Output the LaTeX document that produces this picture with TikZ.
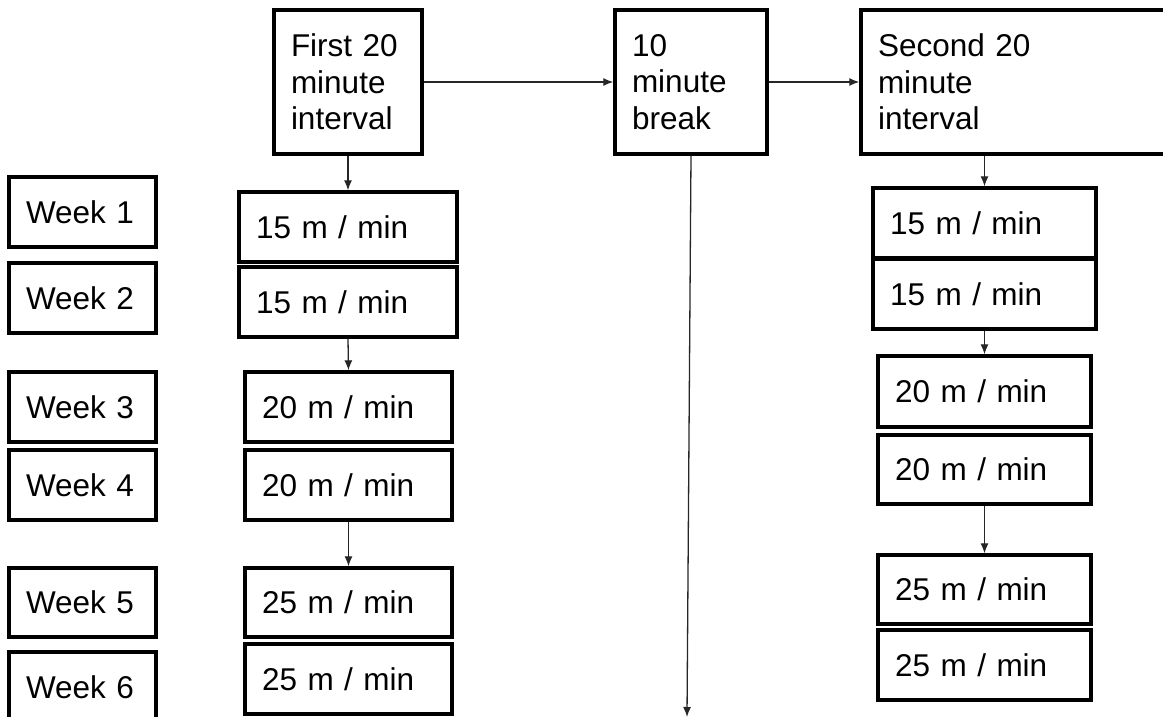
\documentclass[tikz,border=0pt]{standalone}
\usepackage{fontspec}
\setmainfont{Liberation Sans}
\usetikzlibrary{arrows.meta}
\tikzset{
  box/.style={draw=black, line width=3.4pt, fill=white, inner xsep=17pt, inner ysep=0pt,
    align=left, font=\fontsize{31.5}{36.5}\selectfont},
  conn/.style={line width=1.3pt, draw=black!85, -{Latex[length=10pt,width=8pt]}}
}
\newcommand\mybox[6]{%
  \pgfmathsetmacro\bh{#5-#3}%
  \pgfmathsetmacro\tw{#4-#2-34}%
  \node[box, text width=\tw pt, minimum height=\bh pt] (#1) at ({(#2+#4)/2},{(#3+#5)/2}) {#6};}
\begin{document}
\begin{tikzpicture}[x=1pt,y=-1pt]
\useasboundingbox (0,0) rectangle (1163,717);
% top row
\mybox{first}{274}{10}{422}{154}{First 20\\minute\\interval}
\mybox{brk}{615}{10}{767}{154}{10\\minute\\break}
\mybox{second}{861}{10}{1185}{154}{Second 20\\minute\\interval}
% week labels
\mybox{w1}{9}{177}{156}{247}{Week 1}
\mybox{w2}{9}{263}{156}{333}{Week 2}
\mybox{w3}{9}{372}{156}{442}{Week 3}
\mybox{w4}{9}{450}{156}{520}{Week 4}
\mybox{w5}{9}{568}{156}{637}{Week 5}
\mybox{w6}{9}{652}{156}{722}{Week 6}
% first interval column
\mybox{la}{239}{192}{457}{262}{15 m / min}
\mybox{lb}{239}{267}{457}{337}{15 m / min}
\mybox{lc}{245}{372}{452}{442}{20 m / min}
\mybox{ld}{245}{450}{452}{520}{20 m / min}
\mybox{le}{245}{568}{452}{637}{25 m / min}
\mybox{lf}{245}{644}{452}{714}{25 m / min}
% second interval column
\mybox{ra}{873}{188}{1096}{258}{15 m / min}
\mybox{rb}{873}{259}{1096}{329}{15 m / min}
\mybox{rc}{878}{356}{1091}{427}{20 m / min}
\mybox{rd}{878}{435}{1091}{504}{20 m / min}
\mybox{re}{878}{555}{1091}{624}{25 m / min}
\mybox{rf}{878}{630}{1091}{700}{25 m / min}
% connectors
\draw[conn] (first.east) -- (brk.west);
\draw[conn] (brk.east) -- (brk.east -| second.west);
\draw[conn] (first.south) -- (la.north);
\draw[conn] (lb.south) -- (lc.north);
\draw[conn] (ld.south) -- (le.north);
\draw[conn] (ra.north |- second.south) -- (ra.north);
\draw[conn] (rb.south) -- (rc.north);
\draw[conn] (rd.south) -- (re.north);
\coordinate (brkend) at (687,717);
\draw[conn] (brk.south) -- (brkend);
\end{tikzpicture}
\end{document}
